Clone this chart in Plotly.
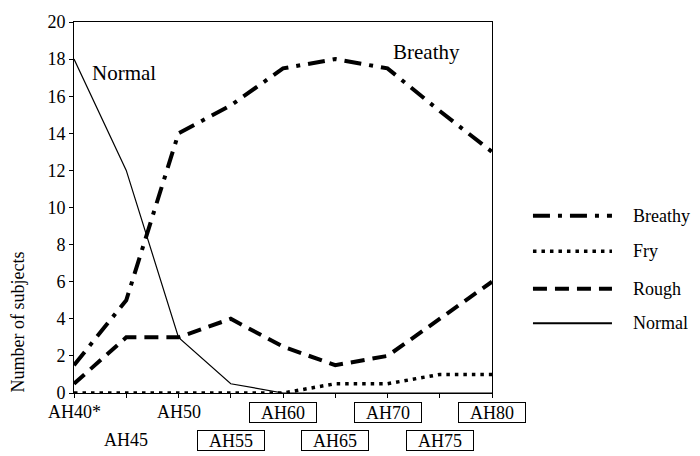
import plotly.graph_objects as go

categories = ["AH40*", "AH45", "AH50", "AH55", "AH60", "AH65", "AH70", "AH75", "AH80"]
breathy = [1.5, 5.0, 14.0, 15.5, 17.5, 18.0, 17.5, 15.2, 13.0]
fry = [0.0, 0.0, 0.0, 0.0, 0.0, 0.5, 0.5, 1.0, 1.0]
rough = [0.5, 3.0, 3.0, 4.0, 2.5, 1.5, 2.0, 4.0, 6.0]
normal = [18.0, 12.0, 3.0, 0.5, 0.0, 0.0, 0.0, 0.0, 0.0]
boxed = [False, False, False, True, True, True, True, True, True]
y_ticks = list(range(0, 21, 2))

FONT = "Liberation Serif"

series = [
    ("Breathy", breathy, dict(color="black", width=4, dash="17px,8px,4px,8px")),
    ("Fry", fry, dict(color="black", width=3.5, dash="3.5px,5px")),
    ("Rough", rough, dict(color="black", width=4, dash="14px,8px")),
    ("Normal", normal, dict(color="black", width=1.2)),
]

fig = go.Figure()
for name, vals, line in series:
    fig.add_trace(go.Scatter(x=categories, y=vals, mode="lines", name=name,
                             line=line, showlegend=False, cliponaxis=False))

fig.update_layout(
    width=700, height=456,
    margin=dict(l=74, r=208, t=16, b=63),
    paper_bgcolor="white", plot_bgcolor="white",
    xaxis=dict(type="category", categoryorder="array", categoryarray=categories,
               range=[0, len(categories) - 1], showticklabels=False,
               showline=True, linecolor="black", linewidth=1, mirror=True,
               ticks="outside", ticklen=4, tickcolor="black", showgrid=False, zeroline=False),
    yaxis=dict(range=[0, 20], tickvals=y_ticks, showline=True, linecolor="black",
               linewidth=1, mirror=True, ticks="outside", ticklen=4, tickcolor="black",
               showgrid=False, zeroline=False, tickfont=dict(size=18, family=FONT, color="black")),
)

annotations = []
# x category labels in two staggered rows
for i, (cat, bx) in enumerate(zip(categories, boxed)):
    row = i % 2
    a = dict(x=cat, xref="x", y=0, yref="paper", text=cat, showarrow=False,
             yanchor="middle", xanchor="center", yshift=-19 if row == 0 else -47,
             font=dict(size=18, family=FONT, color="black"))
    if bx:
        a.update(bordercolor="black", borderwidth=1, width=66, height=19, borderpad=0)
    annotations.append(a)

# in-plot labels
annotations.append(dict(x="AH40*", xref="x", y=17.25, yref="y", text="Normal", showarrow=False,
                        xanchor="left", yanchor="middle", xshift=16,
                        font=dict(size=21, family=FONT, color="black")))
annotations.append(dict(x="AH70", xref="x", y=18.4, yref="y", text="Breathy", showarrow=False,
                        xanchor="left", yanchor="middle", xshift=3,
                        font=dict(size=21, family=FONT, color="black")))

# y-axis title
annotations.append(dict(x=0, xref="paper", y=0.19, yref="paper", text="Number of subjects",
                        showarrow=False, textangle=-90, xanchor="center", yanchor="middle",
                        xshift=-56, font=dict(size=18, family=FONT, color="black")))

# manual legend with long line samples
legend_y = [0.4775, 0.3820, 0.2810, 0.1880]
shapes = []
for (name, vals, line), ly in zip(series, legend_y):
    lline = dict(line)
    if name == "Normal":
        lline["width"] = 2
    shapes.append(dict(type="line", xref="paper", yref="paper", x0=1.098, x1=1.287,
                       y0=ly, y1=ly, line=lline))
    annotations.append(dict(x=1.333, xref="paper", y=ly, yref="paper", text=name,
                            showarrow=False, xanchor="left", yanchor="middle",
                            font=dict(size=18, family=FONT, color="black")))

fig.update_layout(annotations=annotations, shapes=shapes)
fig.write_html("out.html")
